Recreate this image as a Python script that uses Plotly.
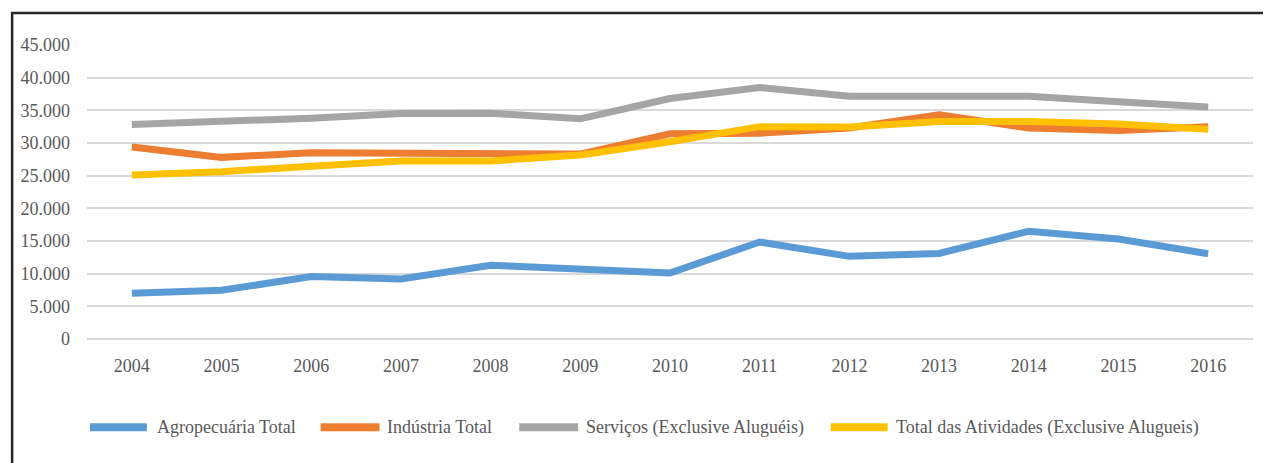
import plotly.graph_objects as go

# ---------------------------- Data ------------------------------- #

years = ["2004", "2005", "2006", "2007", "2008", "2009", "2010",
         "2011", "2012", "2013", "2014", "2015", "2016"]

agropecuaria = [7000, 7450, 9550, 9200, 11300, 10800, 10100,
                14850, 12650, 13100, 16500, 15300, 13050]
industria = [29400, 27800, 28500, 28500, 28300, 28300, 31400,
             31500, 32300, 34300, 32300, 31900, 32500]
servicos = [32850, 33300, 33800, 34500, 34550, 33700, 36800,
            38500, 37150, 37150, 37150, 36300, 35500]
total = [25100, 25600, 26450, 27250, 27250, 28150, 30200,
         32500, 32450, 33300, 33300, 32900, 32100]

series_names = ["Agropecuária Total", "Indústria Total",
                "Serviços (Exclusive Aluguéis)",
                "Total das Atividades (Exclusive Alugueis)"]
series_values = [agropecuaria, industria, servicos, total]
colors = ["#5B9BD5", "#ED7D31", "#A5A5A5", "#FFC000"]

y_ticks = list(range(0, 45001, 5000))

# ---------------------------- Figure ------------------------------- #

W, H = 1271, 463
OFF = 8  # page body margin shifts the figure by 8px
M_L, M_R, M_T, M_B = 85 - OFF, 26, 45 - OFF, 131.5
PLOT_W = W - M_L - M_R
PLOT_H = H - M_T - M_B
FONT = "Liberation Serif, Times New Roman, serif"
TEXT_COLOR = "#595959"


def px_x(px):
    # px given in screenshot pixels
    return (px - OFF - M_L) / PLOT_W


def px_y(py):
    return (H - M_B - (py - OFF)) / PLOT_H


fig = go.Figure()
for name, values, color in zip(series_names, series_values, colors):
    fig.add_trace(go.Scatter(x=years, y=values, name=name, mode="lines",
                             line=dict(color=color, width=7),
                             showlegend=False))

# custom legend (long line symbols like the Excel original)
legend_y = 428
legend_items = [(85, 148, 153), (316, 381, 384), (515, 580, 583), (827, 890, 893)]
shapes = []
annotations = []
for (x0, x1, xt), name, color in zip(legend_items, series_names, colors):
    shapes.append(dict(type="line", xref="paper", yref="paper",
                       x0=px_x(x0 + 3), x1=px_x(x1 - 3),
                       y0=px_y(legend_y), y1=px_y(legend_y),
                       line=dict(color=color, width=8)))
    annotations.append(dict(text=name, xref="paper", yref="paper",
                            x=px_x(xt), y=px_y(legend_y),
                            xanchor="left", yanchor="middle", showarrow=False,
                            font=dict(family=FONT, size=18, color=TEXT_COLOR)))

# chart frame (left and top edges visible in the crop)
shapes.append(dict(type="line", xref="paper", yref="paper",
                   x0=px_x(10), x1=px_x(10), y0=px_y(12), y1=px_y(H + 20),
                   line=dict(color="#262626", width=2.5)))
shapes.append(dict(type="line", xref="paper", yref="paper",
                   x0=px_x(9), x1=px_x(W + 20), y0=px_y(13), y1=px_y(13),
                   line=dict(color="#262626", width=2.5)))

fig.update_layout(
    width=W, height=H,
    margin=dict(l=M_L, r=M_R, t=M_T, b=M_B),
    paper_bgcolor="white", plot_bgcolor="white",
    separators=",.",
    font=dict(family=FONT, size=18, color=TEXT_COLOR),
    showlegend=False,
    shapes=shapes,
    annotations=annotations,
)
fig.update_xaxes(type="category", range=[-0.5, 12.5], showgrid=False,
                 showline=False, zeroline=False,
                 ticks="", ticklabelstandoff=14,
                 tickfont=dict(family=FONT, size=18, color=TEXT_COLOR))
fig.update_yaxes(range=[0, 45000], tickvals=y_ticks, tickformat=",.0f",
                 showgrid=True, gridcolor="#D9D9D9", gridwidth=2,
                 zeroline=True, zerolinecolor="#D9D9D9", zerolinewidth=2,
                 showline=False, ticks="", ticklabelstandoff=16,
                 tickfont=dict(family=FONT, size=18, color=TEXT_COLOR))

fig.write_html("out.html")
